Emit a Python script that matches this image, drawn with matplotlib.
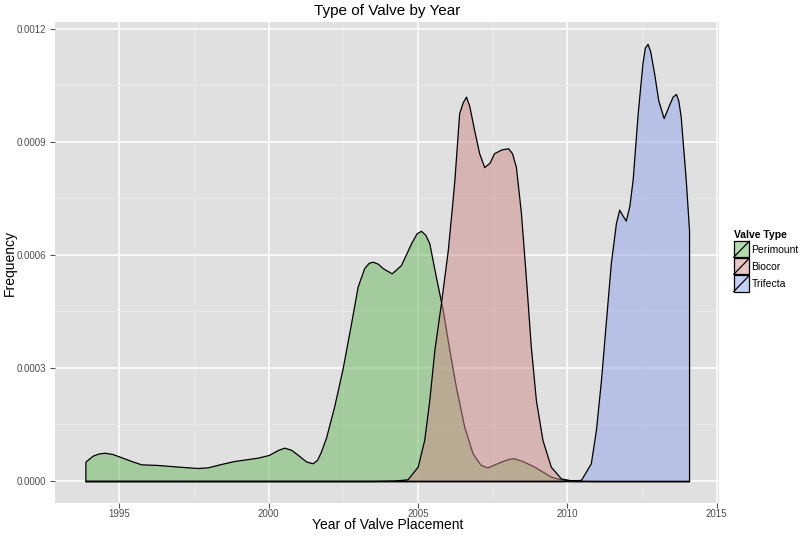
import matplotlib
matplotlib.use("Agg")
import matplotlib.pyplot as plt
from matplotlib.patches import Patch, Rectangle
from matplotlib.lines import Line2D
from matplotlib.legend_handler import HandlerBase

plt.rcParams['font.family'] = ['Liberation Sans', 'DejaVu Sans']

# density curves
perimount_x = [1993.86, 1994.1, 1994.3, 1994.5, 1994.75, 1995.0, 1995.4, 1995.73, 1996.29, 1997.0,
               1997.62, 1997.96, 1998.4, 1998.85, 1999.63, 2000.0, 2000.3, 2000.52, 2000.75,
               2001.0, 2001.25, 2001.47, 2001.62, 2001.75, 2001.92, 2002.2, 2002.48, 2002.76,
               2002.98, 2003.2, 2003.35, 2003.48, 2003.65, 2003.82, 2004.12, 2004.43, 2004.77,
               2004.95, 2005.1, 2005.25, 2005.38, 2005.6, 2005.83, 2006.05, 2006.27, 2006.55,
               2006.83, 2007.1, 2007.33, 2007.8, 2008.05, 2008.22, 2008.5, 2008.9, 2009.45,
               2009.79, 2010.3, 2011.0, 2014.08]
perimount_y = [0.0000512, 0.000067, 0.000073, 0.000075, 0.000072, 0.000065, 0.000053, 0.0000443,
               0.0000425, 0.000038, 0.0000345, 0.0000363, 0.000045, 0.0000531, 0.0000619, 0.000069,
               0.000082, 0.0000885, 0.000083, 0.000068, 0.000052, 0.000047, 0.000056, 0.000078,
               0.000115, 0.0002, 0.0003, 0.000419, 0.000516, 0.000565, 0.000579, 0.000582,
               0.000577, 0.000565, 0.000551, 0.000573, 0.000631, 0.000657, 0.000664, 0.000653,
               0.000631, 0.000542, 0.000454, 0.000348, 0.00025, 0.000144, 0.0000735, 0.0000425,
               0.0000363, 0.000052, 0.000059, 0.0000603, 0.000053, 0.000038, 0.0000114,
               0.0000045, 0.000001, 0.0, 0.0]

biocor_x = [1993.86, 2003.5, 2004.2, 2004.65, 2004.99, 2005.21, 2005.38, 2005.55, 2005.77,
            2006.0, 2006.16, 2006.22, 2006.38, 2006.5, 2006.61, 2006.72, 2006.88, 2007.05,
            2007.22, 2007.4, 2007.55, 2007.8, 2008.02, 2008.15, 2008.28, 2008.45, 2008.62,
            2008.78, 2008.95, 2009.17, 2009.45, 2009.79, 2010.2, 2014.08]
biocor_y = [0.0, 0.0, 0.000001, 0.0000045, 0.000038, 0.000109, 0.000215, 0.000348, 0.000472,
            0.000613, 0.000746, 0.000799, 0.000976, 0.001005, 0.00102, 0.000995, 0.000932,
            0.00087, 0.000833, 0.000845, 0.00087, 0.00088, 0.000883, 0.00087, 0.000834,
            0.000711, 0.000534, 0.000357, 0.000215, 0.000109, 0.000038, 0.000007, 0.0, 0.0]

trifecta_x = [1993.86, 2009.8, 2010.46, 2010.79, 2010.96, 2011.13, 2011.29, 2011.46, 2011.63,
              2011.74, 2011.85, 2011.96, 2012.08, 2012.19, 2012.36, 2012.52, 2012.6, 2012.69,
              2012.78, 2012.91, 2013.05, 2013.23, 2013.41, 2013.53, 2013.64, 2013.72, 2013.8,
              2013.97, 2014.08]
trifecta_y = [0.0, 0.0, 0.000003, 0.000047, 0.000135, 0.000268, 0.000419, 0.000578, 0.000684,
              0.00072, 0.000705, 0.000691, 0.00073, 0.000799, 0.000976, 0.001109, 0.00115, 0.00116,
              0.00114, 0.001082, 0.00101, 0.000963, 0.000998, 0.00102, 0.001027, 0.00101,
              0.000967, 0.000799, 0.000665]

valve_types = ['Perimount', 'Biocor', 'Trifecta']
fills = ['#67b75c', '#cf8a8a', '#8ea3ea']
x_ticks = [1995, 2000, 2005, 2010, 2015]
y_ticks = [0.0, 0.0003, 0.0006, 0.0009, 0.0012]
y_tick_labels = ['0.0000', '0.0003', '0.0006', '0.0009', '0.0012']

fig = plt.figure(figsize=(8, 5.37), dpi=100)
ax = fig.add_axes([0.069, 0.0633, 0.83, 0.8957])
ax.set_facecolor('#e0e0e0')

series = [(perimount_x, perimount_y), (biocor_x, biocor_y), (trifecta_x, trifecta_y)]
for (xs, ys), col in zip(series, fills):
    ax.fill_between(xs, ys, 0, facecolor=matplotlib.colors.to_rgba(col, 0.5),
                    edgecolor='black', linewidth=0.9, zorder=3)

ax.set_xlim(1992.85, 2015.09)
ax.set_ylim(-0.0000584, 0.001218)
ax.set_xticks(x_ticks)
ax.set_xticklabels([str(t) for t in x_ticks])
ax.set_yticks(y_ticks)
ax.set_yticklabels(y_tick_labels)
ax.set_xticks([1997.5, 2002.5, 2007.5, 2012.5], minor=True)
ax.set_yticks([0.00015, 0.00045, 0.00075, 0.00105], minor=True)
ax.grid(which='major', color='white', linewidth=1.1, zorder=1)
ax.grid(which='minor', color='#ececec', linewidth=0.5, zorder=1)
ax.set_axisbelow(True)
for s in ax.spines.values():
    s.set_visible(False)
ax.tick_params(which='major', length=3.5, width=0.8, color='#555555', labelsize=7,
               labelcolor='#4d4d4d', pad=3)
ax.tick_params(axis='x', which='major', pad=1)
ax.tick_params(which='minor', length=0)

ax.set_title('Type of Valve by Year', fontsize=11, pad=5)
ax.set_xlabel('Year of Valve Placement', fontsize=10)
ax.set_ylabel('Frequency', fontsize=10)
ax.xaxis.set_label_coords(0.5, -0.032)
ax.yaxis.set_label_coords(-0.057, 0.5)


class DensityKey(HandlerBase):
    def create_artists(self, legend, orig_handle, xdescent, ydescent, width, height, fontsize, trans):
        r = Rectangle((-xdescent, -ydescent), width, height, facecolor=orig_handle.get_facecolor(),
                      edgecolor='black', linewidth=0.9, transform=trans)
        ln = Line2D([-xdescent, -xdescent + width], [-ydescent, -ydescent + height],
                    color='black', linewidth=0.9, transform=trans)
        return [r, ln]


handles = [Patch(facecolor=matplotlib.colors.to_rgba(c, 0.5)) for c in fills]
leg = fig.legend(handles, valve_types, title='Valve Type', loc='upper left',
                 bbox_to_anchor=(0.908, 0.585), frameon=False, fontsize=7.5,
                 handler_map={Patch: DensityKey()}, handlelength=1.5, handleheight=2.0,
                 handletextpad=0.2, labelspacing=0.1, borderpad=0.2)
leg.get_title().set_fontweight('bold')
leg.get_title().set_fontsize(7.5)
leg._legend_box.align = 'left'

fig.savefig('out.png', dpi=100)
